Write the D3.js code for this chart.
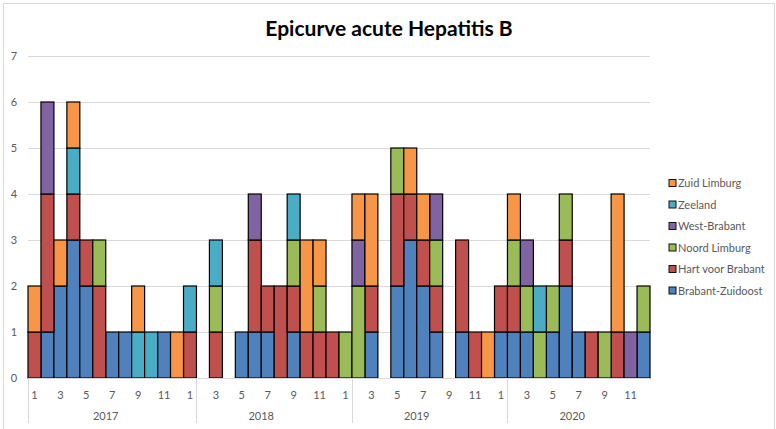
<!DOCTYPE html>
<html>
<head>
<meta charset="utf-8">
<script src="https://cdn.jsdelivr.net/npm/d3@7"></script>
<style>
  body { margin: 0; background: #fff; }
  text { font-family: Lato, "Liberation Sans", sans-serif; }
</style>
</head>
<body>
<div id="chart"></div>
<script>
// monthly cases per region, Jan 2017 - Dec 2020
var months = [1,2,3,4,5,6,7,8,9,10,11,12, 1,2,3,4,5,6,7,8,9,10,11,12,
              1,2,3,4,5,6,7,8,9,10,11,12, 1,2,3,4,5,6,7,8,9,10,11,12];
var years = ["2017", "2018", "2019", "2020"];
var yTicks = [0, 1, 2, 3, 4, 5, 6, 7];

var brabantZuidoost = [0,1,2,3,2,0,1,1,0,0,1,0, 0,0,0,0,1,1,1,0,1,0,0,0,
                       0,0,1,0,2,3,2,1,0,1,0,0, 1,1,1,0,1,2,1,0,0,0,0,1];
var hartVoorBrabant = [1,3,0,1,1,2,0,0,0,0,0,0, 1,0,1,0,0,2,1,2,1,1,1,1,
                       0,0,1,0,2,1,1,1,0,2,1,0, 1,1,0,0,0,1,0,1,0,1,0,0];
var noordLimburg    = [0,0,0,0,0,1,0,0,0,0,0,0, 0,0,1,0,0,0,0,0,1,0,1,0,
                       1,2,0,0,1,0,0,1,0,0,0,0, 0,1,1,1,1,1,0,0,1,0,0,1];
var westBrabant     = [0,2,0,0,0,0,0,0,0,0,0,0, 0,0,0,0,0,1,0,0,0,0,0,0,
                       0,1,0,0,0,0,0,1,0,0,0,0, 0,0,1,0,0,0,0,0,0,0,1,0];
var zeeland         = [0,0,0,1,0,0,0,0,1,1,0,0, 1,0,1,0,0,0,0,0,1,0,0,0,
                       0,0,0,0,0,0,0,0,0,0,0,0, 0,0,0,1,0,0,0,0,0,0,0,0];
var zuidLimburg     = [1,0,1,1,0,0,0,0,1,0,0,1, 0,0,0,0,0,0,0,0,0,2,1,0,
                       0,1,2,0,0,1,1,0,0,0,0,1, 0,1,0,0,0,0,0,0,0,3,0,0];

var keys = ["Brabant-Zuidoost", "Hart voor Brabant", "Noord Limburg",
            "West-Brabant", "Zeeland", "Zuid Limburg"];
var seriesValues = [brabantZuidoost, hartVoorBrabant, noordLimburg,
                    westBrabant, zeeland, zuidLimburg];

var table = months.map(function (m, i) {
  var row = { idx: i, month: m };
  keys.forEach(function (k, j) {
    row[k] = seriesValues[j][i];
  });
  return row;
});

var width = 776;
var height = 429;

var color = d3.scaleOrdinal()
  .domain(keys)
  .range(["#4f81bd", "#c0504d", "#9bbb59", "#8064a2", "#4bacc6", "#f79646"]);

var x = d3.scaleBand()
  .domain(d3.range(months.length))
  .range([28, 650])
  .padding(0);

var y = d3.scaleLinear()
  .domain([0, 7])
  .range([378, 56]);

var svg = d3.select("#chart")
  .append("svg")
  .attr("width", width)
  .attr("height", height);

// chart frame
svg.append("rect")
  .attr("x", 3.5)
  .attr("y", 3.5)
  .attr("width", 771)
  .attr("height", 440)
  .attr("fill", "none")
  .attr("stroke", "#d9d9d9");

svg.append("text")
  .attr("x", 389)
  .attr("y", 36)
  .attr("text-anchor", "middle")
  .style("font-size", "21px")
  .style("font-weight", "bold")
  .attr("fill", "#000")
  .text("Epicurve acute Hepatitis B");

// gridlines + y labels
svg.append("g")
  .selectAll("line")
  .data(yTicks.slice(1))
  .enter()
  .append("line")
  .attr("x1", x.range()[0])
  .attr("x2", x.range()[1])
  .attr("y1", function (d) { return Math.round(y(d)) + 0.5; })
  .attr("y2", function (d) { return Math.round(y(d)) + 0.5; })
  .attr("stroke", "#d9d9d9");

svg.append("g")
  .selectAll("text")
  .data(yTicks)
  .enter()
  .append("text")
  .attr("x", 14)
  .attr("y", function (d) { return y(d) + 4; })
  .attr("text-anchor", "middle")
  .attr("fill", "#595959")
  .style("font-size", "11px")
  .text(function (d) { return d; });

// stacked bars
var stacked = d3.stack().keys(keys)(table);

svg.append("g")
  .selectAll("g")
  .data(stacked)
  .enter()
  .append("g")
  .attr("fill", function (d) { return color(d.key); })
  .selectAll("rect")
  .data(function (d) { return d.filter(function (s) { return s[1] > s[0]; }); })
  .enter()
  .append("rect")
  .attr("x", function (d) { return x(d.data.idx); })
  .attr("y", function (d) { return y(d[1]); })
  .attr("width", x.bandwidth())
  .attr("height", function (d) { return y(d[0]) - y(d[1]); })
  .attr("stroke", "#000")
  .attr("stroke-width", 1.2);

// x axis line
svg.append("line")
  .attr("x1", x.range()[0])
  .attr("x2", x.range()[1])
  .attr("y1", 378.5)
  .attr("y2", 378.5)
  .attr("stroke", "#d9d9d9");

// month labels, every other month
svg.append("g")
  .selectAll("text")
  .data(table.filter(function (d) { return d.idx % 2 === 0; }))
  .enter()
  .append("text")
  .attr("x", function (d) { return x(d.idx) + x.bandwidth() / 2; })
  .attr("y", 399)
  .attr("text-anchor", "middle")
  .attr("fill", "#595959")
  .style("font-size", "11px")
  .text(function (d) { return d.month; });

// year group dividers
var dividers = [0, 13, 25, 37];
svg.append("g")
  .selectAll("line")
  .data(dividers)
  .enter()
  .append("line")
  .attr("x1", function (d) { return Math.round(x(d)) + 0.5; })
  .attr("x2", function (d) { return Math.round(x(d)) + 0.5; })
  .attr("y1", 379)
  .attr("y2", 423)
  .attr("stroke", "#d9d9d9");

svg.append("g")
  .selectAll("text")
  .data(years)
  .enter()
  .append("text")
  .attr("x", function (d, i) { return (x(i * 12) + x(i * 12 + 11) + x.bandwidth()) / 2; })
  .attr("y", 420)
  .attr("text-anchor", "middle")
  .attr("fill", "#595959")
  .style("font-size", "11px")
  .text(function (d) { return d; });

// legend (reverse order, top = last series)
var legend = svg.append("g")
  .selectAll("g")
  .data(keys.slice().reverse())
  .enter()
  .append("g")
  .attr("transform", function (d, i) { return "translate(669," + (183 + i * 21.5) + ")"; });

legend.append("rect")
  .attr("x", 0)
  .attr("y", -3.5)
  .attr("width", 7)
  .attr("height", 7)
  .attr("fill", function (d) { return color(d); })
  .attr("stroke", "#111");

legend.append("text")
  .attr("x", 9)
  .attr("y", 4)
  .attr("fill", "#595959")
  .style("font-size", "11px")
  .text(function (d) { return d; });
</script>
</body>
</html>
